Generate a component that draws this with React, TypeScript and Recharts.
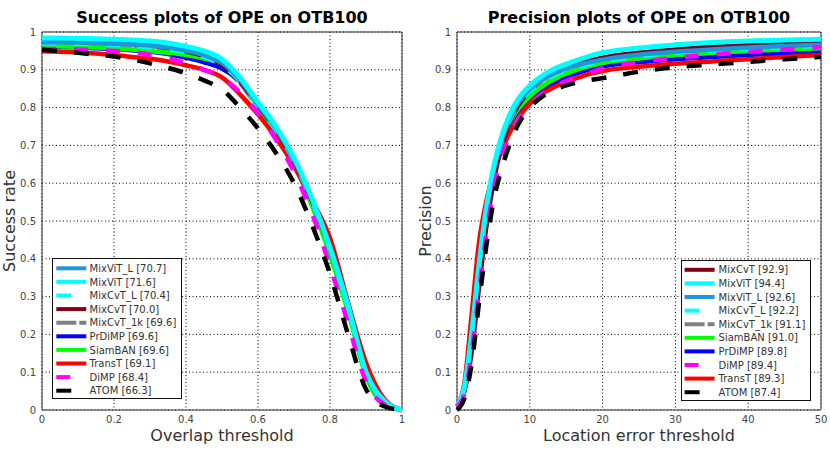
import React from 'react';
import { LineChart, Line, XAxis, YAxis, CartesianGrid, Legend, ReferenceArea, Label } from 'recharts';

// thresholds
const OVERLAP = [0, 0.05, 0.1, 0.15, 0.2, 0.25, 0.3, 0.35, 0.4, 0.45, 0.5, 0.55, 0.6, 0.65, 0.7, 0.75, 0.8, 0.85, 0.9, 0.95, 1];
const LOC_ERR = [0, 1, 2, 3, 4, 5, 6, 7, 8, 9, 10, 12, 14, 16, 18, 20, 25, 30, 35, 40, 45, 50];

const OVERLAP_TICKS = [0, 0.2, 0.4, 0.6, 0.8, 1];
const LOC_TICKS = [0, 10, 20, 30, 40, 50];
const RATE_TICKS = [0, 0.1, 0.2, 0.3, 0.4, 0.5, 0.6, 0.7, 0.8, 0.9, 1];

// success rate per overlap threshold
const SUCCESS_MIXVIT_L = [0.973, 0.973, 0.972, 0.971, 0.969, 0.967, 0.964, 0.959, 0.951, 0.939, 0.918, 0.874, 0.808, 0.745, 0.662, 0.557, 0.432, 0.28, 0.103, 0.026, 0];
const SUCCESS_MIXVIT = [0.984, 0.984, 0.983, 0.982, 0.981, 0.979, 0.976, 0.971, 0.962, 0.95, 0.928, 0.88, 0.815, 0.75, 0.668, 0.56, 0.43, 0.275, 0.1, 0.025, 0];
const SUCCESS_MIXCVT_L = [0.97, 0.97, 0.969, 0.968, 0.966, 0.963, 0.96, 0.955, 0.947, 0.935, 0.912, 0.87, 0.803, 0.74, 0.658, 0.552, 0.425, 0.275, 0.098, 0.022, 0];
const SUCCESS_MIXCVT = [0.975, 0.975, 0.974, 0.973, 0.971, 0.968, 0.964, 0.958, 0.949, 0.936, 0.913, 0.87, 0.805, 0.742, 0.66, 0.553, 0.428, 0.28, 0.1, 0.02, 0];
const SUCCESS_MIXCVT_1K = [0.965, 0.965, 0.964, 0.962, 0.96, 0.957, 0.953, 0.948, 0.94, 0.928, 0.906, 0.865, 0.8, 0.737, 0.655, 0.548, 0.42, 0.27, 0.095, 0.02, 0];
const SUCCESS_PRDIMP = [0.96, 0.96, 0.959, 0.957, 0.955, 0.952, 0.948, 0.942, 0.932, 0.92, 0.903, 0.87, 0.805, 0.74, 0.655, 0.545, 0.415, 0.268, 0.095, 0.02, 0];
const SUCCESS_SIAMBAN = [0.963, 0.962, 0.961, 0.959, 0.957, 0.954, 0.95, 0.945, 0.939, 0.93, 0.915, 0.875, 0.8, 0.735, 0.65, 0.54, 0.41, 0.26, 0.09, 0.015, 0];
const SUCCESS_TRANST = [0.949, 0.948, 0.946, 0.943, 0.939, 0.934, 0.929, 0.922, 0.912, 0.9, 0.88, 0.835, 0.782, 0.72, 0.645, 0.555, 0.455, 0.285, 0.125, 0.03, 0];
const SUCCESS_DIMP = [0.955, 0.955, 0.954, 0.952, 0.95, 0.946, 0.94, 0.93, 0.917, 0.9, 0.88, 0.84, 0.785, 0.715, 0.63, 0.52, 0.38, 0.23, 0.075, 0.015, 0];
const SUCCESS_ATOM = [0.953, 0.949, 0.945, 0.94, 0.935, 0.927, 0.917, 0.905, 0.891, 0.872, 0.848, 0.8, 0.745, 0.68, 0.6, 0.49, 0.36, 0.2, 0.055, 0.01, 0];

// precision per location error threshold
const PREC_MIXVIT = [0.01, 0.06, 0.2, 0.38, 0.53, 0.64, 0.715, 0.77, 0.81, 0.838, 0.858, 0.888, 0.908, 0.922, 0.935, 0.945, 0.958, 0.966, 0.972, 0.976, 0.979, 0.981];
const PREC_MIXVIT_L = [0.01, 0.055, 0.19, 0.37, 0.52, 0.63, 0.705, 0.76, 0.8, 0.828, 0.848, 0.877, 0.896, 0.909, 0.919, 0.927, 0.94, 0.948, 0.954, 0.959, 0.963, 0.966];
const PREC_MIXCVT_L = [0.01, 0.055, 0.19, 0.36, 0.51, 0.625, 0.7, 0.755, 0.795, 0.823, 0.843, 0.872, 0.891, 0.904, 0.914, 0.922, 0.936, 0.945, 0.951, 0.956, 0.96, 0.963];
const PREC_MIXCVT = [0.01, 0.05, 0.15, 0.32, 0.48, 0.6, 0.69, 0.75, 0.792, 0.822, 0.845, 0.877, 0.898, 0.912, 0.923, 0.932, 0.945, 0.954, 0.961, 0.966, 0.97, 0.973];
const PREC_MIXCVT_1K = [0.01, 0.05, 0.18, 0.35, 0.5, 0.615, 0.69, 0.745, 0.785, 0.812, 0.832, 0.862, 0.882, 0.896, 0.906, 0.914, 0.928, 0.938, 0.945, 0.95, 0.955, 0.958];
const PREC_SIAMBAN = [0.01, 0.05, 0.2, 0.38, 0.52, 0.63, 0.7, 0.75, 0.785, 0.81, 0.83, 0.86, 0.882, 0.897, 0.909, 0.918, 0.93, 0.939, 0.945, 0.95, 0.954, 0.957];
const PREC_PRDIMP = [0.01, 0.05, 0.2, 0.38, 0.52, 0.62, 0.69, 0.74, 0.775, 0.8, 0.82, 0.85, 0.872, 0.888, 0.9, 0.909, 0.92, 0.928, 0.934, 0.939, 0.944, 0.948];
const PREC_DIMP = [0.01, 0.04, 0.15, 0.31, 0.46, 0.58, 0.66, 0.715, 0.755, 0.785, 0.807, 0.84, 0.862, 0.878, 0.891, 0.904, 0.92, 0.932, 0.94, 0.947, 0.954, 0.96];
const PREC_TRANST = [0.01, 0.07, 0.25, 0.44, 0.55, 0.625, 0.68, 0.725, 0.76, 0.788, 0.81, 0.84, 0.86, 0.875, 0.888, 0.897, 0.908, 0.916, 0.922, 0.928, 0.934, 0.939];
const PREC_ATOM = [0, 0.03, 0.12, 0.28, 0.43, 0.55, 0.63, 0.69, 0.74, 0.775, 0.8, 0.833, 0.852, 0.864, 0.872, 0.878, 0.895, 0.907, 0.914, 0.921, 0.928, 0.934];

// legend order + scores
const SUCCESS_LEGEND = ['MixViT_L', 'MixViT', 'MixCvT_L', 'MixCvT', 'MixCvT_1k', 'PrDiMP', 'SiamBAN', 'TransT', 'DiMP', 'ATOM'];
const SUCCESS_SCORES = [70.7, 71.6, 70.4, 70.0, 69.6, 69.6, 69.6, 69.1, 68.4, 66.3];
const PREC_LEGEND = ['MixCvT', 'MixViT', 'MixViT_L', 'MixCvT_L', 'MixCvT_1k', 'SiamBAN', 'PrDiMP', 'DiMP', 'TransT', 'ATOM'];
const PREC_SCORES = [92.9, 94.4, 92.6, 92.2, 91.1, 91.0, 89.8, 89.4, 89.3, 87.4];

// back to front
const DRAW_ORDER = ['MixCvT_1k', 'PrDiMP', 'SiamBAN', 'TransT', 'MixCvT', 'MixCvT_L', 'MixViT_L', 'MixViT', 'DiMP', 'ATOM'];

const STYLE: Record<string, { color: string; dash?: string; width: number }> = {
  MixViT_L: { color: '#1e96dc', width: 4.5 },
  MixViT: { color: '#00ffff', width: 5 },
  MixCvT_L: { color: '#00ffff', dash: '15 17', width: 4.5 },
  MixCvT: { color: '#800018', width: 4.5 },
  MixCvT_1k: { color: '#808080', dash: '20 3', width: 4.5 },
  PrDiMP: { color: '#0000ff', width: 4.5 },
  SiamBAN: { color: '#00ff00', width: 4.5 },
  TransT: { color: '#ff0000', width: 4.5 },
  DiMP: { color: '#ff00ff', dash: '14 18', width: 4.5 },
  ATOM: { color: '#000000', dash: '15 17', width: 4.5 },
};

const SUCCESS: Record<string, number[]> = {
  MixViT_L: SUCCESS_MIXVIT_L, MixViT: SUCCESS_MIXVIT, MixCvT_L: SUCCESS_MIXCVT_L, MixCvT: SUCCESS_MIXCVT,
  MixCvT_1k: SUCCESS_MIXCVT_1K, PrDiMP: SUCCESS_PRDIMP, SiamBAN: SUCCESS_SIAMBAN, TransT: SUCCESS_TRANST,
  DiMP: SUCCESS_DIMP, ATOM: SUCCESS_ATOM,
};
const PRECISION: Record<string, number[]> = {
  MixViT_L: PREC_MIXVIT_L, MixViT: PREC_MIXVIT, MixCvT_L: PREC_MIXCVT_L, MixCvT: PREC_MIXCVT,
  MixCvT_1k: PREC_MIXCVT_1K, PrDiMP: PREC_PRDIMP, SiamBAN: PREC_SIAMBAN, TransT: PREC_TRANST,
  DiMP: PREC_DIMP, ATOM: PREC_ATOM,
};

const toRows = (xs: number[], curves: Record<string, number[]>) =>
  xs.map((x, i) => {
    const row: Record<string, number> = { x };
    Object.keys(curves).forEach((k) => (row[k] = curves[k][i]));
    return row;
  });

const successRows = toRows(OVERLAP, SUCCESS);
const precisionRows = toRows(LOC_ERR, PRECISION);

const FONT = '"DejaVu Sans", Verdana, sans-serif';
const TICK = { fontSize: 10, fill: '#444', fontFamily: FONT };
const ROW_H = 13.6;

function LegendBox({ names, scores, padTop, padLeft, gap }: { names: string[]; scores: number[]; padTop: number; padLeft: number; gap: number }) {
  return (
    <svg width={130} height={141} style={{ display: 'block' }}>
      <rect x={0.5} y={0.5} width={129} height={140} fill="#fff" stroke="#111" strokeWidth={1} />
      {names.map((n, i) => {
        const s = STYLE[n];
        const cy = 1 + padTop + ROW_H / 2 + i * ROW_H;
        const x0 = 1 + padLeft;
        return (
          <g key={n}>
            <line x1={x0} y1={cy} x2={x0 + 30} y2={cy} stroke={s.color} strokeWidth={4} strokeDasharray={s.dash} />
            <text x={x0 + 30 + gap} y={cy} dy="0.36em" fontSize={10} fill="#333" fontFamily={FONT}>
              {`${n} [${scores[i].toFixed(1)}]`}
            </text>
          </g>
        );
      })}
    </svg>
  );
}

interface PlotProps {
  left: number;
  title: string;
  xLabel: string;
  yLabel: string;
  rows: Record<string, number>[];
  xMax: number;
  xTicks: number[];
  rightMargin: number;
  legendNames: string[];
  legendScores: number[];
  legendPos: { left: number; top: number; padTop: number; padLeft: number; gap: number };
  yLabelOffset: number;
}

function Plot(p: PlotProps) {
  const W = 415;
  const plotLeft = 42;
  const plotWidth = W - plotLeft - p.rightMargin;
  return (
    <div style={{ position: 'absolute', left: p.left, top: 0, width: W, height: 449 }}>
      <div
        style={{
          position: 'absolute', left: plotLeft, top: 10, width: plotWidth, textAlign: 'center',
          fontFamily: FONT, fontWeight: 'bold', fontSize: 16, lineHeight: '16px', color: '#000', zIndex: 2,
        }}
      >
        {p.title}
      </div>
      <LineChart width={W} height={449} data={p.rows} margin={{ top: 32, right: p.rightMargin, bottom: 0, left: 0 }}>
        <CartesianGrid stroke="#000" strokeDasharray="1 2.5" />
        <XAxis
          dataKey="x" type="number" domain={[0, p.xMax]} ticks={p.xTicks} height={39}
          axisLine={false} tickLine={false} tickSize={4} tickMargin={2} tick={TICK} interval={0}
        >
          <Label value={p.xLabel} position="insideBottom" offset={8} style={{ fontSize: 16, fill: '#333', fontFamily: FONT }} />
        </XAxis>
        <YAxis
          type="number" domain={[0, 1]} ticks={RATE_TICKS} width={42}
          axisLine={false} tickLine={false} tickSize={4} tickMargin={2} tick={TICK} interval={0}
        >
          <Label
            value={p.yLabel} angle={-90} position="insideLeft" offset={p.yLabelOffset}
            style={{ fontSize: 16, fill: '#333', fontFamily: FONT, textAnchor: 'middle' }}
          />
        </YAxis>
        <ReferenceArea x1={0} x2={p.xMax} y1={0} y2={1} fill="none" stroke="#333" strokeWidth={1} ifOverflow="visible" />
        {DRAW_ORDER.map((n) => (
          <Line
            key={n} dataKey={n} type="monotone" stroke={STYLE[n].color}
            strokeWidth={STYLE[n].width} strokeDasharray={STYLE[n].dash} dot={false} activeDot={false}
            isAnimationActive={false}
          />
        ))}
        <Legend
          layout="vertical" align="center" verticalAlign="middle"
          wrapperStyle={{ left: p.legendPos.left, top: p.legendPos.top, width: 130, height: 141 }}
          content={() => (
            <LegendBox
              names={p.legendNames} scores={p.legendScores}
              padTop={p.legendPos.padTop} padLeft={p.legendPos.padLeft} gap={p.legendPos.gap}
            />
          )}
        />
      </LineChart>
    </div>
  );
}

export default function App() {
  return (
    <div style={{ position: 'absolute', left: 0, top: 0, width: 830, height: 449, background: '#fff', overflow: 'hidden' }}>
      <Plot
        left={0} title="Success plots of OPE on OTB100" xLabel="Overlap threshold" yLabel="Success rate"
        rows={successRows} xMax={1} xTicks={OVERLAP_TICKS} rightMargin={13}
        legendNames={SUCCESS_LEGEND} legendScores={SUCCESS_SCORES}
        legendPos={{ left: 52, top: 258, padTop: 2.5, padLeft: 3.3, gap: 3.3 }} yLabelOffset={9}
      />
      <Plot
        left={415} title="Precision plots of OPE on OTB100" xLabel="Location error threshold" yLabel="Precision"
        rows={precisionRows} xMax={50} xTicks={LOC_TICKS} rightMargin={9}
        legendNames={PREC_LEGEND} legendScores={PREC_SCORES}
        legendPos={{ left: 266, top: 260, padTop: 2, padLeft: 2.6, gap: 4 }} yLabelOffset={10}
      />
    </div>
  );
}
